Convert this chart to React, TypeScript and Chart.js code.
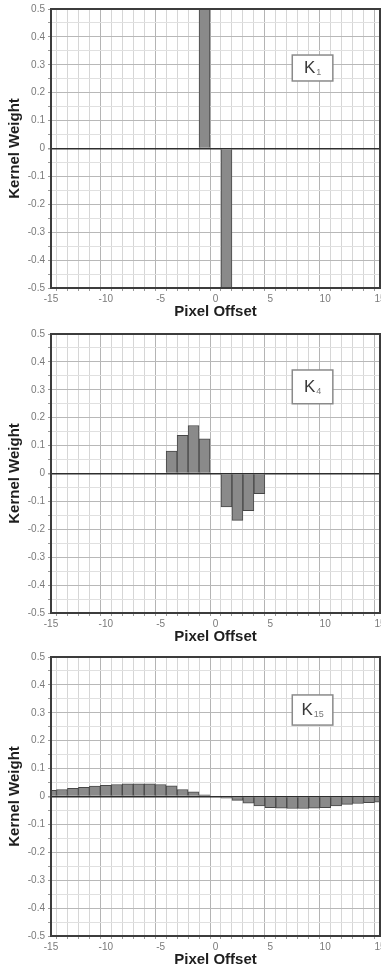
import React, { useEffect, useRef } from "react";
import { Chart, registerables } from "chart.js";

Chart.register(...registerables);

const offsets = [-15, -14, -13, -12, -11, -10, -9, -8, -7, -6, -5, -4, -3, -2, -1, 0, 1, 2, 3, 4, 5, 6, 7, 8, 9, 10, 11, 12, 13, 14, 15];

const k1Weights = [null, null, null, null, null, null, null, null, null, null, null, null, null, null, 0.5, null, -0.5, null, null, null, null, null, null, null, null, null, null, null, null, null, null];

const k4Weights = [null, null, null, null, null, null, null, null, null, null, null, 0.08, 0.137, 0.172, 0.124, null, -0.12, -0.168, -0.133, -0.072, null, null, null, null, null, null, null, null, null, null, null];

const k15Weights = [0.022, 0.025, 0.029, 0.033, 0.037, 0.04, 0.043, 0.045, 0.045, 0.045, 0.043, 0.038, 0.025, 0.017, 0.006, null, -0.006, -0.014, -0.024, -0.034, -0.04, -0.042, -0.043, -0.043, -0.042, -0.04, -0.034, -0.028, -0.025, -0.022, -0.02];

const yTickLabels = ["0.5", "0.4", "0.3", "0.2", "0.1", "0", "-0.1", "-0.2", "-0.3", "-0.4", "-0.5"];
const xTickLabels = ["-15", "-10", "-5", "0", "5", "10", "15"];

const panelNames = ["1", "4", "15"];

const FONT = "'Liberation Sans', Arial, sans-serif";

const tickVal = (c: any) => (c && c.tick && typeof c.tick.value === "number" ? c.tick.value : NaN);

const framePlugin = {
  id: "frame",
  afterDatasetsDraw(chart: any, _args: any, opts: any) {
    const { ctx, chartArea: a, scales } = chart;
    ctx.save();
    if (opts && opts.sub) {
      const x0 = scales.x.getPixelForValue(opts.x0);
      const x1 = scales.x.getPixelForValue(opts.x1);
      const y0 = scales.y.getPixelForValue(opts.y0);
      const y1 = scales.y.getPixelForValue(opts.y1);
      ctx.fillStyle = "#ffffff";
      ctx.fillRect(x0, y0, x1 - x0, y1 - y0);
      ctx.strokeStyle = "#8a8a8a";
      ctx.lineWidth = 1.5;
      ctx.strokeRect(x0, y0, x1 - x0, y1 - y0);
      const cx = (x0 + x1) / 2;
      const cy = (y0 + y1) / 2;
      ctx.font = `17px ${FONT}`;
      ctx.fillStyle = "#3a3a3a";
      ctx.textBaseline = "middle";
      const kw = ctx.measureText("K").width;
      ctx.font = `9px ${FONT}`;
      const sw = ctx.measureText(opts.sub).width;
      const start = cx - (kw + sw + 1) / 2;
      ctx.font = `17px ${FONT}`;
      ctx.textAlign = "left";
      ctx.fillText("K", start, cy);
      ctx.font = `9px ${FONT}`;
      ctx.fillStyle = "#777";
      ctx.fillText(opts.sub, start + kw + 1, cy + 5);
    }
    ctx.strokeStyle = "#3c3c3c";
    ctx.lineWidth = 2;
    ctx.strokeRect(a.left, a.top, a.right - a.left, a.bottom - a.top);
    ctx.restore();
  },
};

function Panel({ weights, sub, box, top }: { weights: (number | null)[]; sub: string; box: number[]; top: number }) {
  const ref = useRef<HTMLCanvasElement | null>(null);
  useEffect(() => {
    if (!ref.current) return;
    const points = offsets.map((x, i) => ({ x, y: weights[i] }));
    const chart = new Chart(ref.current, {
      type: "bar",
      data: {
        datasets: [
          {
            data: points as any,
            backgroundColor: "#8a8a8a",
            borderColor: "#474747",
            borderWidth: 1,
            barPercentage: 1,
            categoryPercentage: 1,
          },
        ],
      },
      options: {
        responsive: false,
        animation: false,
        devicePixelRatio: 1,
        layout: { padding: { top: 9, right: 1, left: 0, bottom: 0 } },
        plugins: {
          legend: { display: false },
          tooltip: { enabled: false },
          frame: { sub, x0: box[0], x1: box[1], y0: box[2], y1: box[3] },
        } as any,
        scales: {
          x: {
            type: "linear",
            min: -15,
            max: 15,
            offset: false,
            afterFit: (s: any) => {
              s.height = 34;
              s.paddingLeft = 0;
              s.paddingRight = 0;
            },
            ticks: {
              stepSize: 1,
              autoSkip: false,
              maxRotation: 0,
              minRotation: 0,
              padding: 2,
              color: "#7a7a7a",
              font: { family: FONT, size: 10 },
              callback: (v: any) => {
                const n = Number(v);
                const s = String(Math.round(n));
                return xTickLabels.includes(s) && Math.abs(n - Math.round(n)) < 1e-6 ? s : "";
              },
            },
            grid: {
              drawOnChartArea: true,
              tickLength: 3,
              color: (c: any) => {
                const v = tickVal(c);
                return !isNaN(v) && Math.round(v) % 5 === 0 ? "#b4b4b4" : "#d6d6d6";
              },
              tickColor: "#9a9a9a",
              lineWidth: 1,
            },
            border: { display: false },
            title: {
              display: true,
              text: "Pixel Offset",
              color: "#1e1e1e",
              font: { family: FONT, size: 15, weight: "bold" },
              padding: { top: 0, bottom: 1 },
            },
          },
          y: {
            type: "linear",
            min: -0.5,
            max: 0.5,
            afterFit: (s: any) => {
              s.width = 51;
            },
            ticks: {
              stepSize: 0.05,
              autoSkip: false,
              padding: 3,
              color: "#7a7a7a",
              font: { family: FONT, size: 10 },
              callback: (v: any) => {
                const n = Math.round(Number(v) * 100);
                if (n % 10 !== 0) return "";
                const s = String(n / 100);
                return yTickLabels.includes(s) ? s : "";
              },
            },
            grid: {
              tickLength: 3,
              color: (c: any) => {
                const v = tickVal(c);
                if (isNaN(v)) return "#e0e0e0";
                const n = Math.round(v * 100);
                if (n === 0) return "#2e2e2e";
                return n % 10 === 0 ? "#b8b8b8" : "#e0e0e0";
              },
              lineWidth: (c: any) => {
                const v = tickVal(c);
                return !isNaN(v) && Math.round(v * 100) === 0 ? 1.5 : 1;
              },
              tickColor: "#9a9a9a",
            },
            border: { display: false },
            title: {
              display: true,
              text: "Kernel Weight",
              color: "#1e1e1e",
              font: { family: FONT, size: 15, weight: "bold" },
              padding: { top: 6, bottom: 0 },
            },
          },
        },
      } as any,
      plugins: [framePlugin],
    });
    return () => chart.destroy();
  }, [weights, sub, box]);
  return (
    <canvas
      ref={ref}
      width={381}
      height={322}
      style={{ position: "absolute", left: 0, top, width: 381, height: 322, display: "block" }}
    />
  );
}

const boxK1 = [7.0, 10.7, 0.335, 0.242];
const boxK4 = [7.0, 10.7, 0.371, 0.25];
const boxK15 = [7.0, 10.7, 0.364, 0.256];

export default function App() {
  return (
    <div style={{ position: "absolute", left: 0, top: 0, width: 381, height: 970, overflow: "hidden", background: "#fff" }}>
      <Panel weights={k1Weights} sub={panelNames[0]} box={boxK1} top={0} />
      <Panel weights={k4Weights} sub={panelNames[1]} box={boxK4} top={325} />
      <Panel weights={k15Weights} sub={panelNames[2]} box={boxK15} top={648} />
    </div>
  );
}
